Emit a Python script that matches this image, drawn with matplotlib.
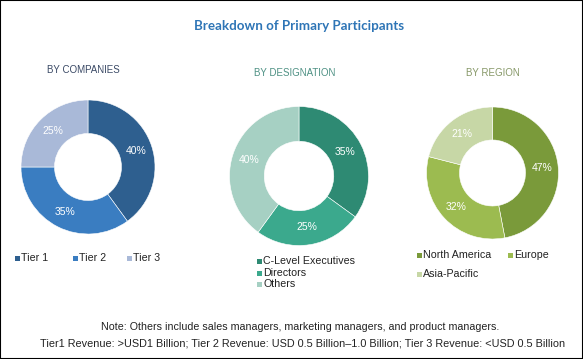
import matplotlib
matplotlib.use('Agg')
import matplotlib.pyplot as plt
from matplotlib import font_manager
from matplotlib.patches import Rectangle

W, H = 583, 359

# chart data
title = 'Breakdown of Primary Participants'

comp_labels = ['Tier 1', 'Tier 2', 'Tier 3']
comp_values = [40, 35, 25]
comp_colors = ['#2E5F8F', '#3A7DC1', '#A9B9D8']

desig_labels = ['C-Level Executives', 'Directors', 'Others']
desig_values = [35, 25, 40]
desig_colors = ['#2E8A73', '#3BA98D', '#A6D0C3']

region_labels = ['North America', 'Europe', 'Asia-Pacific']
region_values = [47, 32, 21]
region_colors = ['#7A9A3A', '#9CBB50', '#C7D7A6']

note1 = 'Note: Others include sales managers, marketing managers, and product managers.'
note2 = ('Tier1 Revenue: >USD1 Billion; Tier 2 Revenue: USD 0.5 Billion\u20131.0 Billion; '
         'Tier 3 Revenue: <USD 0.5 Billion')

installed = set(f.name for f in font_manager.fontManager.ttflist)
narrow = 'Liberation Sans Narrow' if 'Liberation Sans Narrow' in installed else 'Liberation Sans'
plt.rcParams['font.family'] = [narrow, 'DejaVu Sans']

fig = plt.figure(figsize=(W / 100, H / 100), dpi=100)


def fx(x):
    return x / W


def fy(y):
    # y measured from the top, in pixels
    return 1 - y / H


def donut(cx, cy, r, values, colors):
    ax = fig.add_axes([fx(cx - r), fy(cy + r), 2 * r / W, 2 * r / H])
    ax.pie(values, colors=colors, startangle=90, counterclock=False,
           wedgeprops=dict(width=0.5, edgecolor='white', linewidth=0.4),
           autopct='%d%%', pctdistance=0.75,
           textprops=dict(color='white', fontsize=7.5))
    ax.set_aspect('auto')
    ax.set_xlim(-1, 1)
    ax.set_ylim(-1, 1)
    ax.axis('off')
    return ax


def legend_item(x, y, label, color):
    fig.patches.append(Rectangle((fx(x), fy(y + 2.5)), 5 / W, 5 / H,
                                 transform=fig.transFigure, facecolor=color,
                                 edgecolor='none'))
    fig.text(fx(x + 6), fy(y), label, fontsize=7.7, color='#222222',
             ha='left', va='center')


fig.text(fx(299), fy(26), title, fontsize=9.6, fontweight='bold',
         color='#2E75B6', ha='center', va='center', family=['Lato', 'DejaVu Sans'])

fig.text(fx(83), fy(70), 'BY COMPANIES', fontsize=7, color='#3B4A66',
         ha='center', va='center')
fig.text(fx(295), fy(73), 'BY DESIGNATION', fontsize=7, color='#4E9184',
         ha='center', va='center')
fig.text(fx(493), fy(73), 'BY REGION', fontsize=7, color='#879868',
         ha='center', va='center')

donut(88, 167, 67, comp_values, comp_colors)
donut(299, 176, 69.5, desig_values, desig_colors)
donut(492.5, 173, 66, region_values, region_colors)

# legends
for x, lab, col in zip([15, 73, 127], comp_labels, comp_colors):
    legend_item(x, 258, lab, col)
for y, lab, col in zip([261, 273, 284], desig_labels, desig_colors):
    legend_item(257, y, lab, col)
legend_item(417, 255, region_labels[0], region_colors[0])
legend_item(508, 255, region_labels[1], region_colors[1])
legend_item(417, 274, region_labels[2], region_colors[2])

fig.text(fx(300), fy(327), note1, fontsize=7.7, color='#222222', ha='center', va='center')
fig.text(fx(303), fy(344), note2, fontsize=7.8, color='#222222', ha='center', va='center')

fig.patches.append(Rectangle((0, 0), 1, 1, transform=fig.transFigure,
                             facecolor='none', edgecolor='black', linewidth=1.5))

fig.savefig('out.png', dpi=100)
